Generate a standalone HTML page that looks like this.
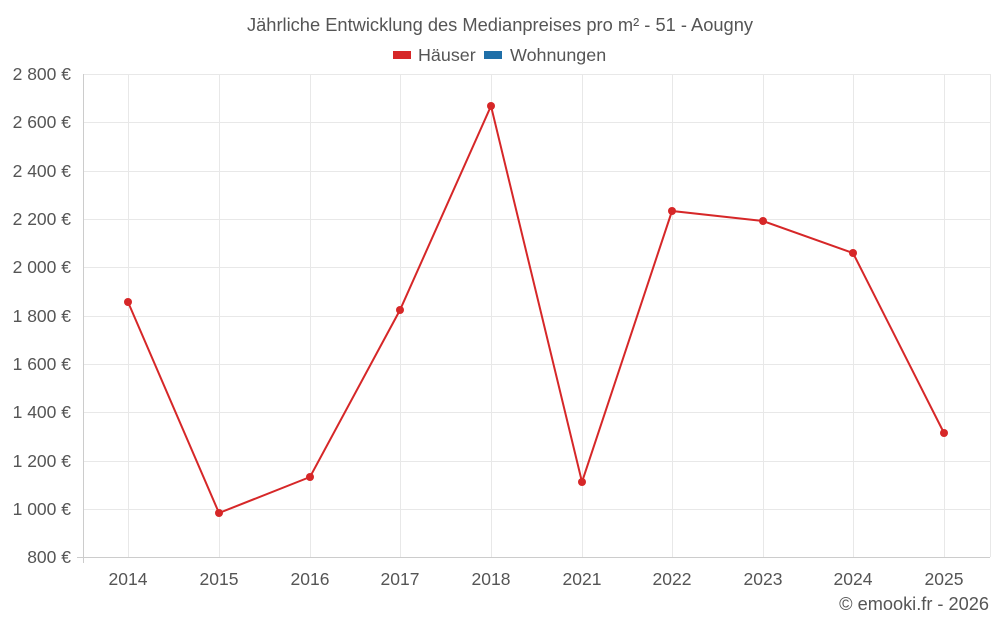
<!DOCTYPE html>
<html><head><meta charset="utf-8"><style>
body{margin:0;background:#fff;}
svg{display:block;font-family:"Liberation Sans",sans-serif;}
</style></head><body>
<svg width="1000" height="625" viewBox="0 0 1000 625">
<rect width="1000" height="625" fill="#fff"/>
<text x="500" y="31" text-anchor="middle" font-size="18.3" fill="#555">Jährliche Entwicklung des Medianpreises pro m² - 51 - Aougny</text>
<rect x="393" y="51" width="18" height="8" fill="#d62728"/>
<text x="418" y="61" font-size="17.9" fill="#555">Häuser</text>
<rect x="484" y="51" width="18" height="8" fill="#1f6fa8"/>
<text x="510" y="61" font-size="17.9" fill="#555">Wohnungen</text>
<g stroke="#e8e8e8" stroke-width="1">
<line x1="83" y1="74.5" x2="990" y2="74.5"/>
<line x1="83" y1="122.5" x2="990" y2="122.5"/>
<line x1="83" y1="171.5" x2="990" y2="171.5"/>
<line x1="83" y1="219.5" x2="990" y2="219.5"/>
<line x1="83" y1="267.5" x2="990" y2="267.5"/>
<line x1="83" y1="316.5" x2="990" y2="316.5"/>
<line x1="83" y1="364.5" x2="990" y2="364.5"/>
<line x1="83" y1="412.5" x2="990" y2="412.5"/>
<line x1="83" y1="461.5" x2="990" y2="461.5"/>
<line x1="83" y1="509.5" x2="990" y2="509.5"/>
<line x1="128.5" y1="74" x2="128.5" y2="557"/>
<line x1="219.5" y1="74" x2="219.5" y2="557"/>
<line x1="310.5" y1="74" x2="310.5" y2="557"/>
<line x1="400.5" y1="74" x2="400.5" y2="557"/>
<line x1="491.5" y1="74" x2="491.5" y2="557"/>
<line x1="582.5" y1="74" x2="582.5" y2="557"/>
<line x1="672.5" y1="74" x2="672.5" y2="557"/>
<line x1="763.5" y1="74" x2="763.5" y2="557"/>
<line x1="853.5" y1="74" x2="853.5" y2="557"/>
<line x1="944.5" y1="74" x2="944.5" y2="557"/>
<line x1="990.5" y1="74" x2="990.5" y2="557"/>
</g>
<line x1="83.5" y1="74" x2="83.5" y2="563" stroke="#ccc"/>
<line x1="77" y1="557.5" x2="990" y2="557.5" stroke="#ccc"/>
<g font-size="17.5" fill="#555" text-anchor="end">
<text x="71" y="80">2 800 €</text>
<text x="71" y="128">2 600 €</text>
<text x="71" y="177">2 400 €</text>
<text x="71" y="225">2 200 €</text>
<text x="71" y="273">2 000 €</text>
<text x="71" y="322">1 800 €</text>
<text x="71" y="370">1 600 €</text>
<text x="71" y="418">1 400 €</text>
<text x="71" y="467">1 200 €</text>
<text x="71" y="515">1 000 €</text>
<text x="71" y="563">800 €</text>
</g>
<g font-size="17.5" fill="#555" text-anchor="middle">
<text x="128" y="585">2014</text><text x="219" y="585">2015</text><text x="310" y="585">2016</text>
<text x="400" y="585">2017</text><text x="491" y="585">2018</text><text x="582" y="585">2021</text>
<text x="672" y="585">2022</text><text x="763" y="585">2023</text><text x="853" y="585">2024</text>
<text x="944" y="585">2025</text>
</g>
<polyline fill="none" stroke="#d62728" stroke-width="2" points="128,302 219,513 310,477 400,310 491,106 582,482 672,211 763,221 853,253 944,433"/>
<g fill="#d62728">
<circle cx="128" cy="302" r="4"/><circle cx="219" cy="513" r="4"/><circle cx="310" cy="477" r="4"/>
<circle cx="400" cy="310" r="4"/><circle cx="491" cy="106" r="4"/><circle cx="582" cy="482" r="4"/>
<circle cx="672" cy="211" r="4"/><circle cx="763" cy="221" r="4"/><circle cx="853" cy="253" r="4"/>
<circle cx="944" cy="433" r="4"/>
</g>
<text x="989" y="610" text-anchor="end" font-size="18.2" fill="#555">© emooki.fr - 2026</text>
</svg>
</body></html>
